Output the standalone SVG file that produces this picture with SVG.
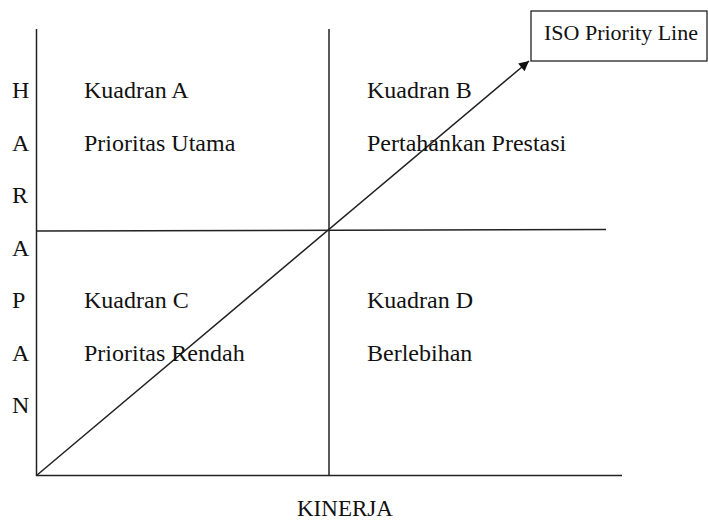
<svg xmlns="http://www.w3.org/2000/svg" width="708" height="522" viewBox="0 0 708 522">
<style>
.ln{stroke:#222;stroke-width:1.5;fill:none}
.t{font-family:"Liberation Serif","Times New Roman",serif;font-size:24px;fill:#111}
.s{font-family:"Liberation Serif","Times New Roman",serif;font-size:22px;fill:#111}
.k{font-family:"Liberation Serif","Times New Roman",serif;font-size:23px;fill:#111}
</style>
<defs>
<marker id="ah" viewBox="0 0 10 10" refX="10" refY="5" markerWidth="12" markerHeight="10" markerUnits="userSpaceOnUse" orient="auto">
<path d="M0,0 L10,5 L0,10 Z" fill="#111"/>
</marker>
</defs>
<rect width="708" height="522" fill="#fff"/>
<g id="axes">
<line class="ln" x1="36.5" y1="29" x2="36.5" y2="476"/>
<line class="ln" x1="36" y1="475.5" x2="622" y2="475.5"/>
<line class="ln" x1="329" y1="29" x2="329" y2="476"/>
<line class="ln" x1="36" y1="231" x2="606" y2="229.5" stroke="#333"/>
</g>
<g id="connectors">
<line class="ln" x1="36.5" y1="475.5" x2="529" y2="61" marker-end="url(#ah)"/>
</g>
<g id="iso-box">
<rect x="531" y="11" width="176" height="50" fill="#fff" stroke="#222" stroke-width="1.3"/>
<text class="s" x="544" y="40">ISO Priority Line</text>
</g>
<g id="y-label">
<text class="t" x="12" y="98">H</text>
<text class="t" x="12" y="151">A</text>
<text class="t" x="12" y="203">R</text>
<text class="t" x="12" y="256">A</text>
<text class="t" x="12" y="308">P</text>
<text class="t" x="12" y="361">A</text>
<text class="t" x="12" y="413">N</text>
</g>
<g id="quadrant-a">
<text class="t" x="84" y="98">Kuadran A</text>
<text class="t" x="84" y="151">Prioritas Utama</text>
</g>
<g id="quadrant-b">
<text class="t" x="367" y="98">Kuadran B</text>
<text class="t" x="367" y="151">Pertahankan Prestasi</text>
</g>
<g id="quadrant-c">
<text class="t" x="84" y="308">Kuadran C</text>
<text class="t" x="84" y="361">Prioritas Rendah</text>
</g>
<g id="quadrant-d">
<text class="t" x="367" y="308">Kuadran D</text>
<text class="t" x="367" y="361">Berlebihan</text>
</g>
<g id="x-label">
<text class="k" x="297" y="516">KINERJA</text>
</g>
</svg>
